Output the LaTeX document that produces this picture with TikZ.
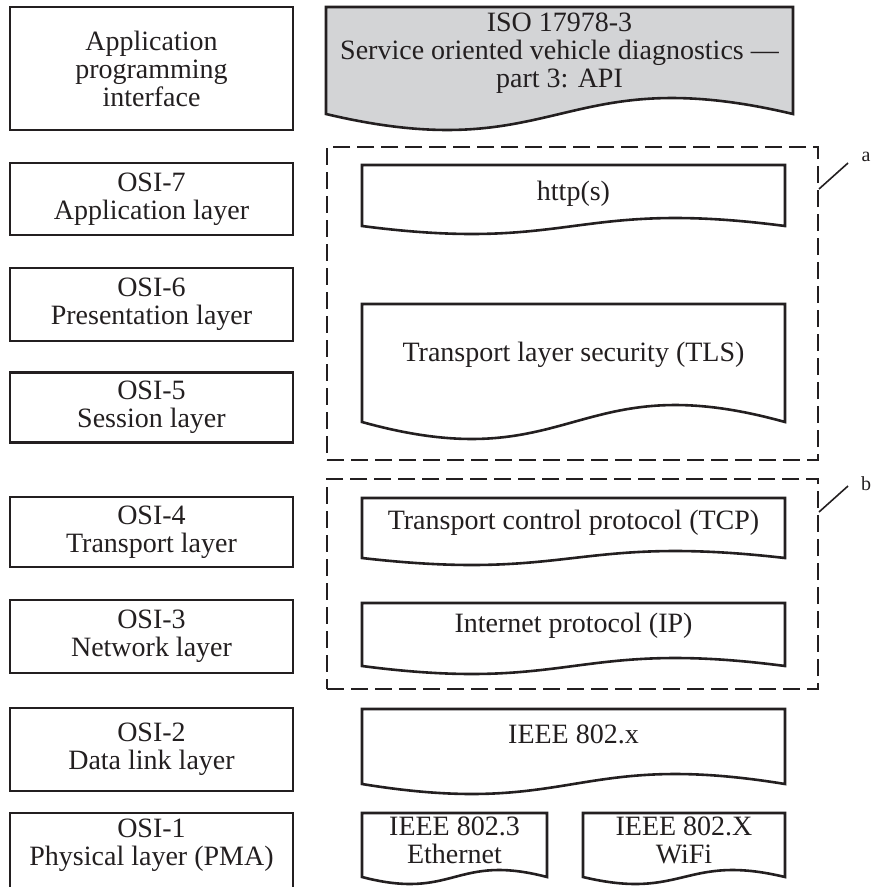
\documentclass[tikz,border=0pt]{standalone}
\usepackage{fontspec}
\setmainfont{Liberation Serif}
\definecolor{ink}{RGB}{35,31,32}
\definecolor{apigray}{RGB}{211,212,214}
\newcommand\docshp[6][white]{%
  \draw[docline, fill=#1] (#2,#3) -- (#4,#3) -- (#4,#5)
    .. controls ({(#2+#4)/2},{#5-3.46*#6}) and ({(#2+#4)/2},{#5+3.46*#6}) .. (#2,#5) -- cycle;}
\begin{document}
\begin{tikzpicture}[x=1pt,y=-1pt,
  every node/.style={text=ink, font=\fontsize{28}{28}\selectfont, align=center, inner sep=0pt},
  layerbox/.style={draw=ink, line width=2.6pt, minimum width=283pt},
  dashbox/.style={draw=ink, line width=2.6pt, dash pattern=on 17pt off 7pt, minimum width=491pt},
  docline/.style={draw=ink, line width=2.6pt, line join=miter},
  leader/.style={draw=ink, line width=1.6pt},
  tag/.style={font=\fontsize{20}{20}\selectfont}
]
\useasboundingbox (0,0) rectangle (872,887);

% left column: layers
\node[layerbox, minimum height=123pt] (api) at (151.5,68.5) {Application\\programming\\interface};
\node[layerbox, minimum height=72pt] (osi7) at (151.5,199) {OSI-7\\Application layer};
\node[layerbox, minimum height=73pt] (osi6) at (151.5,304.5) {OSI-6\\Presentation layer};
\node[layerbox, minimum height=70pt] (osi5) at (151.5,407.5) {OSI-5\\Session layer};
\node[layerbox, minimum height=70pt] (osi4) at (151.5,532) {OSI-4\\Transport layer};
\node[layerbox, minimum height=73pt] (osi3) at (151.5,636.5) {OSI-3\\Network layer};
\node[layerbox, minimum height=83pt] (osi2) at (151.5,749.5) {OSI-2\\Data link layer};
\node[layerbox, minimum height=170pt] (osi1) at (151.5,898) {};
\node (osi1t) at (151.5,845) {OSI-1\\Physical layer (PMA)};

% right column: protocol documents
\docshp[apigray]{326}{7}{793}{114}{16}
\node (isoapi) at (559.5,53) {ISO 17978-3\\Service oriented vehicle diagnostics —\\part 3: API};

\node[dashbox, minimum height=313pt] (grpa) at (572.5,303.5) {};
\node[dashbox, minimum height=210pt] (grpb) at (572.5,584) {};

\docshp{362}{165}{785}{226}{8}
\node (http) at (573.5,194) {http(s)};
\docshp{362}{304}{785}{422}{17}
\node (tls) at (573.5,355) {Transport layer security (TLS)};
\docshp{362}{498}{785}{558}{7}
\node (tcp) at (573.5,523) {Transport control protocol (TCP)};
\docshp{362}{603}{785}{666}{8}
\node (ip) at (573.5,626) {Internet protocol (IP)};
\docshp{362}{709}{785}{784}{10}
\node (ieee) at (573.5,734) {IEEE 802.x};
\docshp{362}{813}{547}{877}{7}
\node (eth) at (454.5,840) {IEEE 802.3\\Ethernet};
\docshp{583}{813}{785}{877}{7}
\node (wifi) at (684,840) {IEEE 802.X\\WiFi};

% keys a, b
\node[tag] (la) at (866,157) {a};
\node[tag] (lb) at (866,484) {b};
\coordinate (pa) at (819,189);
\coordinate (ea) at (848,163);
\coordinate (pb) at (819,512);
\coordinate (eb) at (848,486);
\draw[leader] (pa) -- (ea);
\draw[leader] (pb) -- (eb);
\end{tikzpicture}
\end{document}
